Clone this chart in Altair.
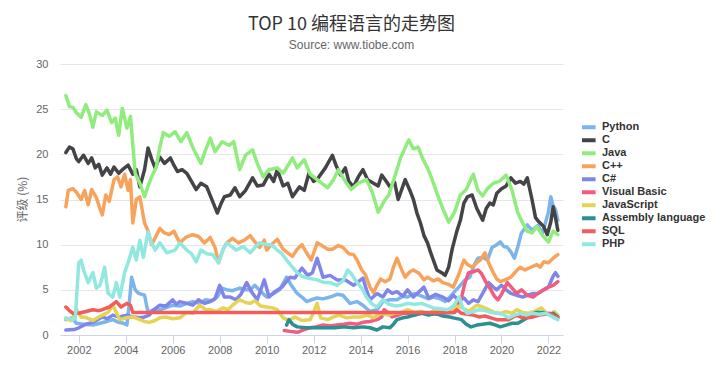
import altair as alt
import pandas as pd

series_names = ["Python", "C", "Java", "C++", "C#", "Visual Basic",
                "JavaScript", "Assembly language", "SQL", "PHP"]
series_colors = ["#7cb5ec", "#434348", "#90ed7d", "#f7a35c", "#8085e9",
                 "#f15c80", "#e4d354", "#2b908f", "#f45b5b", "#91e8e1"]

year_ticks = [2002, 2004, 2006, 2008, 2010, 2012, 2014, 2016, 2018, 2020, 2022]
value_ticks = [0, 5, 10, 15, 20, 25, 30]

python_x = [2001.45, 2001.7, 2001.9, 2002.2, 2002.6, 2002.9, 2003.2, 2003.45, 2003.7, 2003.9,
            2004.05, 2004.15, 2004.25, 2004.4, 2004.55, 2004.8, 2004.95, 2005.2, 2005.45, 2005.7,
            2006.0, 2006.3, 2006.6, 2006.85, 2007.15, 2007.4, 2007.65, 2007.9, 2008.1, 2008.3,
            2008.55, 2008.85, 2009.1, 2009.3, 2009.5, 2009.75, 2010.0, 2010.3, 2010.55, 2010.85,
            2011.05, 2011.3, 2011.5, 2011.7, 2011.9, 2012.15, 2012.4, 2012.7, 2013.0, 2013.25,
            2013.55, 2013.85, 2014.1, 2014.4, 2014.7, 2014.95, 2015.25, 2015.55, 2015.8, 2016.0,
            2016.3, 2016.6, 2016.9, 2017.1, 2017.4, 2017.6, 2017.8, 2018.0, 2018.25, 2018.45,
            2018.65, 2018.85, 2019.0, 2019.2, 2019.4, 2019.6, 2019.8, 2019.95, 2020.1, 2020.25,
            2020.4, 2020.55, 2020.7, 2020.85, 2021.1, 2021.3, 2021.55, 2021.75, 2022.0, 2022.1,
            2022.2, 2022.3, 2022.4]
python_y = [1.7, 1.9, 1.3, 1.2, 1.1, 1.3, 1.5, 1.7, 1.4, 1.3,
            1.1, 3.5, 6.4, 5.0, 4.6, 4.4, 2.5, 2.8, 2.8, 3.0,
            3.3, 3.2, 3.5, 3.7, 3.5, 3.9, 3.8, 4.2, 5.2, 5.0,
            4.9, 5.2, 5.0, 5.0, 5.5, 4.8, 4.2, 4.6, 5.0, 6.4,
            5.5, 4.6, 4.2, 3.7, 3.9, 4.1, 4.0, 4.2, 4.5, 4.4,
            3.5, 3.7, 3.3, 2.6, 2.8, 3.7, 3.9, 3.9, 4.3, 4.2,
            4.6, 4.3, 4.0, 4.2, 4.0, 3.7, 4.2, 4.8, 5.5, 6.1,
            6.4, 7.8, 8.5, 8.6, 8.3, 9.7, 10.0, 10.3, 9.8, 9.7,
            9.2, 8.5, 9.8, 11.3, 12.2, 11.6, 12.1, 11.3, 13.6, 15.3,
            14.3, 13.9, 12.7]

c_x = [2001.45, 2001.6, 2001.75, 2001.9, 2002.0, 2002.2, 2002.4, 2002.55, 2002.7, 2002.85,
       2003.0, 2003.2, 2003.35, 2003.5, 2003.7, 2003.9, 2004.1, 2004.3, 2004.45, 2004.6,
       2004.8, 2004.95, 2005.1, 2005.25, 2005.45, 2005.65, 2005.9, 2006.05, 2006.2, 2006.4,
       2006.6, 2006.8, 2007.0, 2007.2, 2007.45, 2007.7, 2007.9, 2008.05, 2008.2, 2008.45,
       2008.65, 2008.85, 2009.1, 2009.4, 2009.6, 2009.85, 2010.1, 2010.3, 2010.45, 2010.7,
       2010.9, 2011.1, 2011.4, 2011.6, 2011.8, 2012.0, 2012.2, 2012.5, 2012.8, 2012.95,
       2013.15, 2013.35, 2013.5, 2013.7, 2013.9, 2014.1, 2014.3, 2014.55, 2014.75, 2014.9,
       2015.1, 2015.25, 2015.45, 2015.6, 2015.9, 2016.1, 2016.25, 2016.4, 2016.55, 2016.7,
       2016.85, 2017.0, 2017.25, 2017.45, 2017.6, 2017.75, 2017.9, 2018.1, 2018.25, 2018.4,
       2018.55, 2018.75, 2018.95, 2019.2, 2019.35, 2019.5, 2019.65, 2019.8, 2020.0, 2020.2,
       2020.4, 2020.6, 2020.8, 2020.95, 2021.1, 2021.3, 2021.45, 2021.6, 2021.8, 2021.95,
       2022.1, 2022.2, 2022.3, 2022.4]
c_y = [20.2, 20.8, 20.6, 19.5, 19.2, 19.9, 19.0, 19.6, 18.5, 18.9,
       17.7, 18.5, 17.8, 18.6, 17.9, 18.4, 18.8, 17.8, 18.3, 16.4,
       18.3, 20.7, 19.5, 18.5, 19.7, 19.0, 19.6, 18.8, 18.1, 18.3,
       17.9, 17.0, 16.1, 16.8, 16.4, 14.8, 13.5, 14.5, 15.3, 15.5,
       16.3, 15.3, 16.0, 17.4, 16.5, 16.6, 17.8, 17.0, 18.3, 16.5,
       16.8, 15.3, 16.4, 16.0, 17.9, 17.0, 17.4, 18.5, 19.9, 18.8,
       17.7, 18.5, 17.0, 16.4, 17.5, 18.3, 17.2, 16.8, 16.5, 17.7,
       17.0, 16.4, 16.9, 15.0, 17.2, 16.0, 15.0, 13.5, 12.4, 11.0,
       10.2, 9.0, 7.2, 6.9, 6.6, 7.5, 9.5, 11.5, 12.7, 14.6,
       15.3, 15.5, 14.0, 12.7, 14.0, 14.6, 14.4, 15.7, 16.2, 16.5,
       17.4, 16.8, 17.0, 16.7, 17.4, 15.0, 13.0, 12.5, 12.0, 11.1,
       12.5, 14.2, 13.0, 11.6]

java_x = [2001.45, 2001.6, 2001.75, 2001.9, 2002.1, 2002.3, 2002.45, 2002.6, 2002.75, 2003.0,
          2003.2, 2003.4, 2003.55, 2003.7, 2003.85, 2004.05, 2004.2, 2004.4, 2004.6, 2004.8,
          2004.95, 2005.1, 2005.3, 2005.45, 2005.6, 2005.85, 2006.1, 2006.35, 2006.6, 2006.9,
          2007.2, 2007.4, 2007.6, 2007.8, 2008.1, 2008.4, 2008.6, 2008.85, 2009.1, 2009.4,
          2009.6, 2009.85, 2010.1, 2010.45, 2010.7, 2011.1, 2011.3, 2011.6, 2011.85, 2012.3,
          2012.6, 2012.85, 2013.05, 2013.35, 2013.6, 2013.9, 2014.25, 2014.5, 2014.75, 2015.0,
          2015.2, 2015.45, 2015.7, 2016.05, 2016.25, 2016.45, 2016.65, 2016.85, 2017.05, 2017.25,
          2017.5, 2017.75, 2018.0, 2018.25, 2018.5, 2018.8, 2019.0, 2019.2, 2019.4, 2019.65,
          2019.9, 2020.2, 2020.45, 2020.7, 2020.9, 2021.1, 2021.3, 2021.5, 2021.75, 2022.0,
          2022.2, 2022.4]
java_y = [26.5, 25.3, 25.2, 24.6, 24.1, 25.5, 24.5, 23.0, 24.7, 24.3,
          24.9, 23.5, 24.0, 22.1, 25.1, 22.9, 24.2, 17.9, 16.8, 15.3,
          16.5, 17.5, 18.6, 20.8, 22.4, 22.0, 22.5, 21.4, 22.4, 20.5,
          19.0, 20.5, 21.8, 20.3, 21.4, 21.0, 21.4, 18.3, 19.9, 20.5,
          19.0, 17.5, 18.3, 18.5, 17.9, 19.6, 18.5, 19.4, 17.8, 16.9,
          16.3, 17.2, 18.3, 17.0, 16.1, 16.8, 17.2, 15.8, 13.6, 14.8,
          15.5, 17.5, 19.6, 21.6, 20.6, 20.8, 19.5, 18.5, 17.2, 15.7,
          14.0, 12.5, 13.6, 15.5, 16.1, 17.8, 16.0, 15.4, 16.2, 16.8,
          17.0, 17.7, 16.0, 13.5, 12.4, 11.5, 11.3, 12.0, 11.0, 10.3,
          11.5, 11.1]

cpp_x = [2001.45, 2001.55, 2001.75, 2001.9, 2002.1, 2002.25, 2002.4, 2002.55, 2002.75, 2002.9,
         2003.0, 2003.15, 2003.3, 2003.5, 2003.65, 2003.8, 2003.95, 2004.1, 2004.2, 2004.3,
         2004.45, 2004.6, 2004.8, 2004.95, 2005.1, 2005.3, 2005.45, 2005.65, 2005.85, 2006.05,
         2006.3, 2006.55, 2006.85, 2007.1, 2007.35, 2007.6, 2007.8, 2007.95, 2008.15, 2008.3,
         2008.55, 2008.8, 2009.05, 2009.3, 2009.5, 2009.7, 2009.9, 2010.0, 2010.2, 2010.45,
         2010.7, 2010.9, 2011.1, 2011.3, 2011.5, 2011.7, 2011.9, 2012.15, 2012.35, 2012.6,
         2012.8, 2013.05, 2013.25, 2013.5, 2013.7, 2013.85, 2014.05, 2014.2, 2014.4, 2014.55,
         2014.7, 2014.85, 2015.05, 2015.25, 2015.4, 2015.55, 2015.75, 2015.9, 2016.1, 2016.25,
         2016.5, 2016.7, 2016.85, 2017.1, 2017.3, 2017.5, 2017.75, 2017.95, 2018.15, 2018.4,
         2018.55, 2018.75, 2018.95, 2019.1, 2019.3, 2019.45, 2019.65, 2019.8, 2019.95, 2020.15,
         2020.4, 2020.6, 2020.8, 2021.0, 2021.25, 2021.5, 2021.65, 2021.8, 2022.0, 2022.2,
         2022.4]
cpp_y = [14.2, 16.0, 16.2, 15.8, 15.0, 16.0, 14.4, 16.1, 15.2, 14.0,
         13.3, 15.5, 14.8, 17.2, 17.5, 16.4, 17.8, 16.0, 17.2, 12.4,
         15.0, 15.3, 12.4, 11.5, 10.0, 11.0, 11.8, 11.3, 11.1, 11.5,
         10.2, 10.8, 11.1, 10.9, 10.2, 10.8, 9.7, 8.0, 9.5, 10.2,
         10.7, 10.2, 10.5, 11.0, 10.3, 9.7, 10.5, 9.4, 10.0, 10.6,
         9.5, 9.1, 8.7, 9.5, 10.0, 9.1, 8.3, 10.2, 9.9, 9.5,
         9.5, 9.9, 9.7, 9.0, 8.9, 8.3, 7.2, 6.7, 5.3, 4.7,
         5.5, 6.2, 5.9, 6.2, 7.5, 8.5, 7.2, 6.4, 7.0, 7.2,
         6.8, 6.1, 6.4, 6.0, 6.2, 5.8, 5.6, 5.3, 6.5, 8.3,
         7.8, 7.5, 8.0, 8.3, 9.1, 8.0, 6.9, 6.2, 5.9, 6.1,
         6.4, 7.0, 7.5, 7.2, 7.5, 7.8, 7.5, 8.1, 8.0, 8.5,
         8.9]

csharp_x = [2001.45, 2001.8, 2002.0, 2002.3, 2002.6, 2003.0, 2003.2, 2003.45, 2003.7, 2004.05,
            2004.3, 2004.6, 2004.8, 2005.0, 2005.2, 2005.45, 2005.7, 2006.0, 2006.15, 2006.3,
            2006.6, 2006.85, 2007.1, 2007.35, 2007.6, 2007.8, 2008.0, 2008.2, 2008.45, 2008.7,
            2008.9, 2009.15, 2009.35, 2009.6, 2009.9, 2010.1, 2010.35, 2010.65, 2011.0, 2011.2,
            2011.5, 2011.75, 2011.95, 2012.15, 2012.4, 2012.7, 2013.0, 2013.35, 2013.7, 2014.1,
            2014.25, 2014.4, 2014.7, 2014.95, 2015.15, 2015.35, 2015.55, 2015.8, 2016.0, 2016.25,
            2016.5, 2016.7, 2016.9, 2017.2, 2017.5, 2017.75, 2017.95, 2018.2, 2018.4, 2018.6,
            2018.8, 2019.0, 2019.2, 2019.45, 2019.65, 2019.8, 2020.0, 2020.2, 2020.4, 2020.65,
            2020.9, 2021.1, 2021.35, 2021.55, 2021.8, 2022.0, 2022.2, 2022.3, 2022.4]
csharp_y = [0.55, 0.6, 0.8, 1.2, 1.4, 2.0, 1.8, 2.2, 2.0, 2.2,
            2.0, 1.9, 2.0, 2.2, 2.8, 3.3, 3.2, 3.9, 3.4, 3.7,
            3.5, 3.3, 3.9, 3.5, 3.7, 4.0, 5.5, 4.2, 4.2, 3.9,
            4.5, 5.8, 4.8, 3.9, 6.1, 4.2, 4.8, 5.3, 6.4, 6.3,
            7.4, 6.6, 6.9, 8.5, 6.4, 6.6, 6.1, 6.1, 5.5, 6.3,
            5.0, 3.9, 4.6, 4.2, 5.0, 4.6, 4.8, 4.3, 5.0, 4.2,
            4.8, 5.3, 4.1, 4.5, 4.2, 3.8, 4.4, 3.8, 4.1, 3.5,
            3.9, 3.7, 4.6, 5.8, 5.3, 5.0, 5.5, 5.0, 4.6, 4.4,
            4.2, 4.4, 4.6, 4.6, 5.0, 5.3, 6.5, 6.9, 6.5]

vb_x = [2010.75, 2011.0, 2011.3, 2011.6, 2011.85, 2012.1, 2012.4, 2012.7, 2013.0, 2013.3,
        2013.55, 2013.85, 2014.1, 2014.4, 2014.7, 2014.9, 2015.0, 2015.15, 2015.35, 2015.6,
        2015.8, 2016.0, 2016.3, 2016.6, 2016.9, 2017.2, 2017.5, 2017.8, 2018.0, 2018.15,
        2018.3, 2018.45, 2018.6, 2018.8, 2019.0, 2019.15, 2019.35, 2019.55, 2019.7, 2019.85,
        2020.0, 2020.25, 2020.45, 2020.65, 2020.85, 2021.1, 2021.35, 2021.55, 2021.8, 2022.0,
        2022.2, 2022.4]
vb_y = [0.5, 0.4, 0.3, 0.6, 0.8, 0.9, 1.1, 1.0, 1.1, 1.2,
        1.3, 1.2, 1.4, 1.5, 1.7, 2.0, 2.8, 2.5, 2.0, 2.2,
        2.4, 2.4, 2.2, 2.5, 2.4, 2.3, 2.4, 2.5, 2.5, 3.5,
        4.2, 5.8, 6.9, 7.0, 7.2, 6.8, 5.8, 5.0, 4.3, 3.9,
        4.5, 5.8, 5.2, 4.6, 5.0, 4.4, 4.2, 4.6, 5.0, 5.3,
        5.5, 5.9]

js_x = [2001.45, 2001.7, 2001.9, 2002.1, 2002.35, 2002.6, 2002.85, 2003.0, 2003.25, 2003.45,
        2003.6, 2003.75, 2004.0, 2004.3, 2004.6, 2004.8, 2005.0, 2005.25, 2005.45, 2005.7,
        2006.0, 2006.3, 2006.6, 2006.85, 2007.15, 2007.4, 2007.6, 2007.85, 2008.15, 2008.35,
        2008.55, 2008.85, 2009.1, 2009.3, 2009.5, 2009.75, 2010.0, 2010.25, 2010.45, 2010.7,
        2010.95, 2011.2, 2011.5, 2011.85, 2012.0, 2012.15, 2012.3, 2012.6, 2012.85, 2013.1,
        2013.4, 2013.7, 2014.0, 2014.3, 2014.55, 2014.85, 2015.15, 2015.45, 2015.75, 2016.0,
        2016.3, 2016.6, 2016.9, 2017.2, 2017.5, 2017.8, 2018.1, 2018.35, 2018.6, 2018.95,
        2019.2, 2019.45, 2019.7, 2019.95, 2020.2, 2020.45, 2020.65, 2020.9, 2021.15, 2021.4,
        2021.7, 2021.9, 2022.1, 2022.25, 2022.4]
js_y = [1.8, 1.6, 2.8, 2.0, 1.9, 1.6, 2.0, 2.2, 2.5, 3.3,
        2.5, 1.7, 1.9, 2.0, 1.7, 1.5, 1.4, 1.6, 1.9, 2.0,
        1.8, 1.9, 2.5, 2.4, 3.3, 2.8, 2.8, 2.6, 3.0, 2.8,
        3.3, 3.9, 3.6, 3.5, 3.8, 3.2, 3.1, 3.0, 2.8, 1.9,
        1.6, 2.0, 1.6, 1.7, 2.5, 3.5, 1.9, 1.7, 2.0, 2.2,
        1.9, 2.0, 2.0, 2.2, 1.9, 2.4, 2.2, 2.4, 2.5, 2.8,
        2.5, 2.6, 2.3, 2.9, 2.6, 2.8, 3.2, 3.0, 2.6, 3.3,
        3.1, 2.8, 2.5, 2.4, 2.6, 2.4, 2.8, 2.5, 2.4, 2.6,
        3.0, 2.5, 2.2, 2.6, 2.2]

asm_x = [2010.85, 2010.95, 2011.1, 2011.3, 2011.7, 2012.1, 2012.5, 2012.9, 2013.3, 2013.7,
         2014.1, 2014.4, 2014.7, 2014.95, 2015.25, 2015.4, 2015.55, 2015.8, 2016.0, 2016.3,
         2016.6, 2016.9, 2017.2, 2017.5, 2017.8, 2017.95, 2018.3, 2018.5, 2018.7, 2018.95,
         2019.2, 2019.5, 2019.75, 2019.95, 2020.2, 2020.45, 2020.7, 2020.9, 2021.1, 2021.3,
         2021.5, 2021.75, 2022.0, 2022.2, 2022.4]
asm_y = [1.1, 1.7, 1.2, 0.9, 0.8, 0.8, 0.8, 0.8, 0.9, 0.8,
         0.9, 0.8, 0.55, 0.9, 0.8, 1.2, 1.7, 1.9, 2.0, 2.2,
         2.4, 2.2, 2.4, 2.1, 2.0, 1.9, 1.7, 1.2, 0.9, 1.1,
         1.2, 1.3, 1.1, 0.9, 1.1, 1.3, 1.3, 1.6, 1.9, 2.3,
         2.5, 2.5, 2.3, 2.4, 2.0]

sql_x = [2001.45, 2001.6, 2001.75, 2002.0, 2002.3, 2002.6, 2002.85, 2003.0, 2003.3, 2003.6,
         2003.8, 2004.05, 2004.2, 2004.3, 2018.0, 2018.1, 2018.3, 2018.55, 2018.8, 2019.05,
         2019.3, 2019.55, 2019.8, 2020.05, 2020.3, 2020.5, 2020.65, 2020.9, 2021.1, 2021.35,
         2021.6, 2021.85, 2022.05, 2022.25, 2022.4]
sql_y = [3.1, 2.7, 2.4, 2.4, 2.6, 2.8, 2.7, 2.8, 3.1, 3.7,
         3.1, 3.5, 3.3, 2.5, 2.5, 2.8, 2.4, 2.3, 2.2, 2.0,
         2.1, 1.9, 1.7, 1.7, 1.7, 2.0, 2.2, 1.9, 1.9, 2.0,
         2.2, 2.3, 2.4, 2.1, 1.9]

php_x = [2001.45, 2001.75, 2001.85, 2002.0, 2002.1, 2002.2, 2002.4, 2002.6, 2002.75, 2002.9,
         2003.0, 2003.1, 2003.25, 2003.45, 2003.6, 2003.75, 2003.95, 2004.1, 2004.3, 2004.45,
         2004.6, 2004.75, 2004.95, 2005.1, 2005.25, 2005.45, 2005.75, 2006.1, 2006.3, 2006.6,
         2006.8, 2007.0, 2007.2, 2007.45, 2007.7, 2007.95, 2008.15, 2008.3, 2008.5, 2008.7,
         2009.0, 2009.3, 2009.5, 2009.7, 2010.0, 2010.2, 2010.45, 2010.65, 2010.85, 2011.1,
         2011.3, 2011.5, 2011.75, 2012.15, 2012.45, 2012.7, 2013.0, 2013.25, 2013.45, 2013.6,
         2013.8, 2014.05, 2014.25, 2014.5, 2014.7, 2014.95, 2015.2, 2015.5, 2015.75, 2016.0,
         2016.3, 2016.6, 2016.9, 2017.1, 2017.4, 2017.7, 2017.95, 2018.2, 2018.35, 2018.55,
         2018.8, 2019.05, 2019.3, 2019.55, 2019.8, 2020.05, 2020.3, 2020.55, 2020.8, 2021.05,
         2021.3, 2021.6, 2021.9, 2022.1, 2022.25, 2022.4]
php_y = [1.9, 1.7, 1.8, 8.0, 8.3, 7.2, 5.8, 6.9, 5.2, 5.5,
         6.4, 7.5, 4.6, 4.2, 5.8, 4.2, 6.9, 8.0, 9.7, 8.3,
         10.5, 8.6, 11.4, 10.2, 9.4, 10.2, 9.1, 9.4, 10.2, 9.4,
         9.0, 8.1, 9.4, 9.0, 8.9, 8.0, 9.5, 10.2, 9.8, 9.4,
         9.8, 9.1, 9.7, 10.2, 10.0, 10.0, 9.4, 9.0, 8.3, 7.5,
         6.9, 6.5, 6.3, 6.1, 5.8, 5.8, 5.5, 6.0, 7.2, 6.8,
         6.0, 5.2, 4.2, 3.4, 3.1, 3.9, 3.4, 3.2, 3.3, 3.5,
         3.4, 3.5, 3.2, 3.0, 2.9, 2.8, 3.2, 4.2, 3.0, 2.4,
         2.6, 2.8, 2.7, 2.5, 2.4, 2.3, 1.9, 2.2, 2.4, 2.2,
         2.4, 2.3, 2.4, 2.1, 1.9, 1.7]

all_x = [python_x, c_x, java_x, cpp_x, csharp_x, vb_x, js_x, asm_x, sql_x, php_x]
all_y = [python_y, c_y, java_y, cpp_y, csharp_y, vb_y, js_y, asm_y, sql_y, php_y]

frames = []
for i, (name, xs, ys) in enumerate(zip(series_names, all_x, all_y)):
    frames.append(pd.DataFrame({"year": xs, "value": ys, "lang": name, "order": i}))
df = pd.concat(frames, ignore_index=True)

FONT = "Liberation Sans"
CJK = "Noto Sans CJK SC"

color_scale = alt.Scale(domain=series_names, range=series_colors)

base = alt.Chart(df)
layers = []
for name in series_names:
    layers.append(
        base.transform_filter(alt.datum.lang == name)
        .mark_line(strokeWidth=3.5, strokeJoin="round", strokeCap="round")
        .encode(
            x=alt.X("year:Q",
                    scale=alt.Scale(domain=[2001.2, 2022.62], nice=False, zero=False),
                    axis=alt.Axis(values=year_ticks, format="d", title=None, grid=False,
                                  domainColor="#ccd6eb", tickColor="#ccd6eb", tickSize=8,
                                  labelColor="#666666", labelFontSize=11, labelPadding=1,
                                  labelFont=FONT)),
            y=alt.Y("value:Q",
                    scale=alt.Scale(domain=[0, 30], nice=False),
                    axis=alt.Axis(values=value_ticks, title="评级 (%)", grid=True,
                                  gridColor="#e6e6e6", domain=False, ticks=False,
                                  labelColor="#666666", labelFontSize=11, labelPadding=12,
                                  labelFont=FONT, titleFont=CJK, titleColor="#666666",
                                  titleFontSize=12, titleFontWeight="normal",
                                  titleX=-38, titleY=135, titleAngle=270,
                                  titleAlign="center", titleBaseline="middle")),
            color=alt.Color("lang:N", scale=color_scale,
                            legend=alt.Legend(title=None, orient="none", legendX=522,
                                              legendY=57, symbolType="M-2.7,0L2.7,0",
                                              symbolSize=36, symbolStrokeWidth=4,
                                              labelFont=FONT, labelFontSize=11,
                                              labelFontWeight="bold", labelColor="#333333",
                                              rowPadding=0, clipHeight=12.7, labelOffset=9)),
        )
    )

chart = alt.layer(*layers).properties(
    width=503,
    height=271,
    title=alt.TitleParams(
        text="TOP 10 编程语言的走势图",
        subtitle="Source: www.tiobe.com",
        font=CJK, fontSize=18, fontWeight="normal", color="#333333",
        subtitleFont=FONT, subtitleFontSize=12, subtitleColor="#666666",
        subtitlePadding=6, anchor="middle", dx=40, offset=7,
    ),
    autosize=alt.AutoSizeParams(type="none"),
    padding={"left": 52, "top": 56, "right": 149, "bottom": 23},
).configure_view(stroke=None)

chart.save("out.html", embed_options={"renderer": "svg", "actions": False})
